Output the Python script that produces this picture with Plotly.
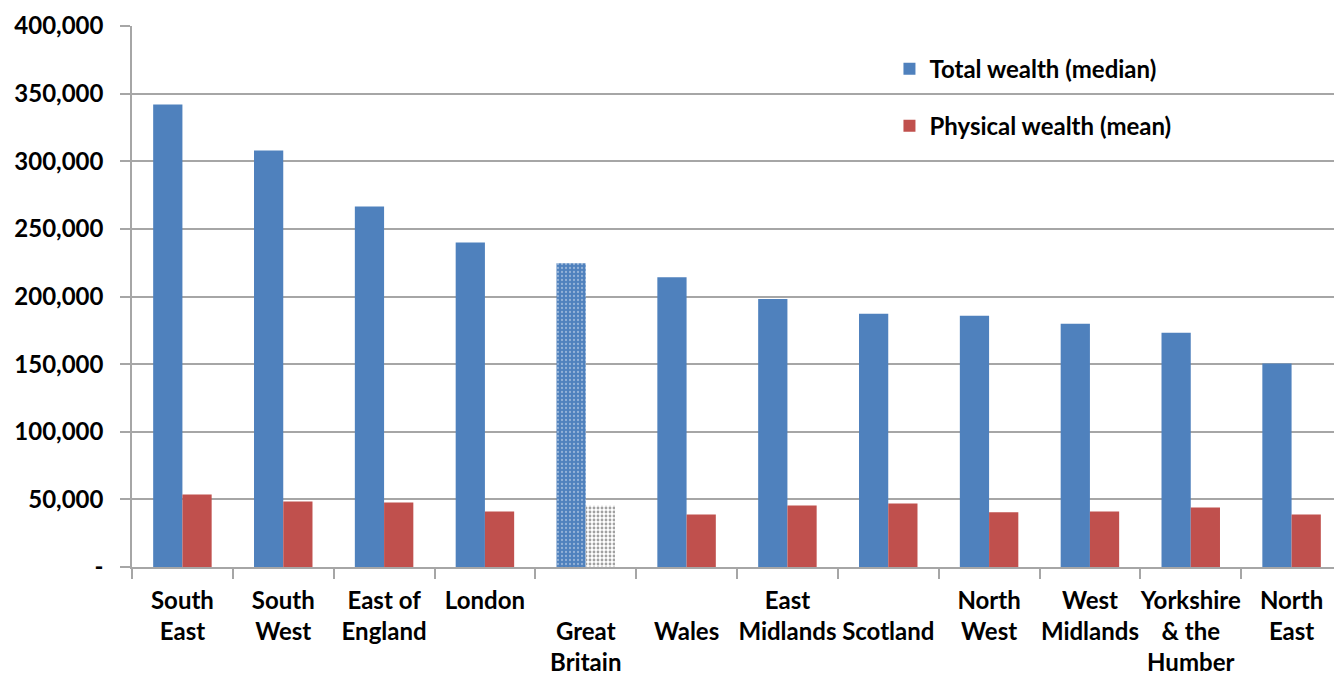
import plotly.graph_objects as go

categories = ["South<br>East", "South<br>West", "East of<br>England", "London",
              "<br>Great<br>Britain", "<br>Wales", "East<br>Midlands", "<br>Scotland",
              "North<br>West", "West<br>Midlands", "Yorkshire<br>& the<br>Humber", "North<br>East"]
total_median = [342000, 308000, 266500, 240000, 224500, 214300, 198200, 187200, 185700, 179800, 173200, 150500]
physical_mean = [53600, 48400, 47700, 41100, 45500, 38900, 45500, 47000, 40400, 41100, 44000, 38900]
y_tickvals = [0, 50000, 100000, 150000, 200000, 250000, 300000, 350000, 400000]
y_ticktext = ["-", "50,000", "100,000", "150,000", "200,000", "250,000", "300,000", "350,000", "400,000"]

BLUE = "#4f81bd"
RED = "#c0504d"
gb_idx = 4

blue_shapes = ["." if i == gb_idx else "" for i in range(len(categories))]
red_colors = ["#ffffff" if i == gb_idx else RED for i in range(len(categories))]
red_shapes = ["." if i == gb_idx else "" for i in range(len(categories))]
red_fg = ["#7fa8dc" if i == gb_idx else RED for i in range(len(categories))]

fig = go.Figure()
fig.add_trace(go.Bar(
    x=categories, y=total_median, name="Total wealth (median)",
    marker=dict(color=BLUE, line=dict(width=0),
                pattern=dict(shape=blue_shapes, fillmode="overlay", fgcolor="#d8e4f2",
                             size=4, solidity=0.25)),
    legendgroup="a",
))
fig.add_trace(go.Bar(
    x=categories, y=physical_mean, name="Physical wealth (mean)",
    marker=dict(color=red_colors, line=dict(width=0),
                pattern=dict(shape=red_shapes, fillmode="overlay", fgcolor=red_fg,
                             size=4, solidity=0.4)),
    legendgroup="b",
))

font_family = "Lato, 'Open Sans', sans-serif"
FS = 24
fig.update_layout(
    width=1342, height=678,
    margin=dict(l=124, r=8, t=18, b=119, autoexpand=False),
    paper_bgcolor="white", plot_bgcolor="white",
    barmode="group", bargap=0.42, bargroupgap=0,
    font=dict(family=font_family, size=FS, color="black", weight="bold"),
    showlegend=True,
    legend=dict(x=0.626, y=0.962, xanchor="left", yanchor="top",
                bgcolor="rgba(0,0,0,0)", font=dict(size=FS, weight="bold"),
                tracegroupgap=23, itemwidth=30),
    xaxis=dict(showline=True, linecolor="#a6a6a6", linewidth=1.5,
               ticks="outside", tickson="boundaries", ticklen=10, tickcolor="#a6a6a6",
               tickwidth=1.5, tickfont=dict(size=FS, weight="bold"), showgrid=False,
               ticklabelstandoff=11, tickangle=0, automargin=False),
    yaxis=dict(range=[0, 400000], tickvals=y_tickvals, ticktext=y_ticktext,
               showline=True, linecolor="#a6a6a6", linewidth=1.5,
               ticks="outside", ticklen=10, tickcolor="#a6a6a6", tickwidth=1.5,
               showgrid=True, gridcolor="#a6a6a6", gridwidth=1.5,
               zeroline=False, ticklabelstandoff=12, tickfont=dict(size=FS, weight="bold"),
               automargin=False, ticklabeloverflow="allow"),
)

fig.write_html("out.html")
